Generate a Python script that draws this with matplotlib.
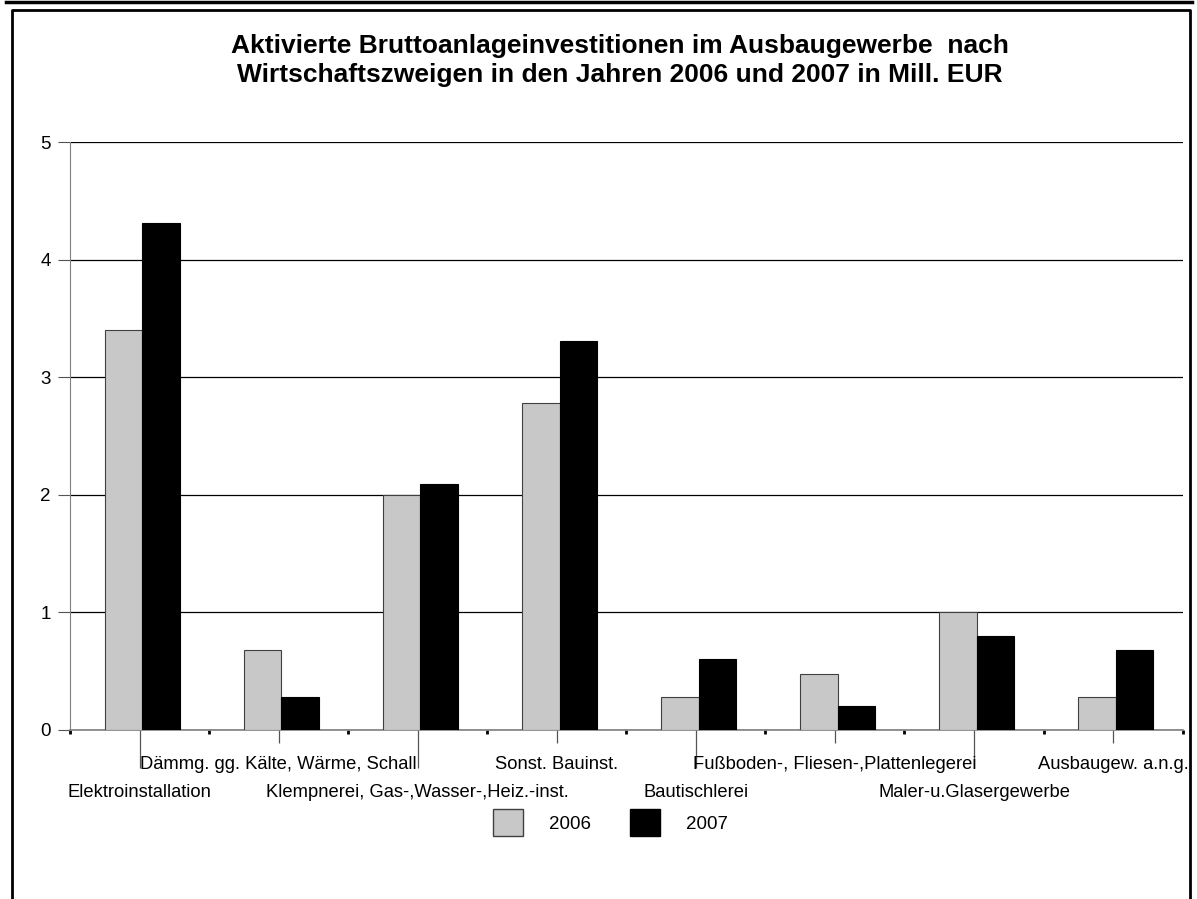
import matplotlib.pyplot as plt
import numpy as np
from matplotlib.lines import Line2D
from matplotlib.patches import Patch

plt.rcParams['font.family'] = ['Liberation Sans', 'DejaVu Sans']

# chart data
categories = [
    "Elektroinstallation",
    "Dämmg. gg. Kälte, Wärme, Schall",
    "Klempnerei, Gas-,Wasser-,Heiz.-inst.",
    "Sonst. Bauinst.",
    "Bautischlerei",
    "Fußboden-, Fliesen-,Plattenlegerei",
    "Maler-u.Glasergewerbe",
    "Ausbaugew. a.n.g.",
]
years = ["2006", "2007"]
values_2006 = [3.4, 0.68, 2.0, 2.78, 0.28, 0.48, 1.0, 0.28]
values_2007 = [4.31, 0.28, 2.09, 3.31, 0.6, 0.2, 0.8, 0.68]
yticks = [0, 1, 2, 3, 4, 5]

title = ("Aktivierte Bruttoanlageinvestitionen im Ausbaugewerbe  nach\n"
         "Wirtschaftszweigen in den Jahren 2006 und 2007 in Mill. EUR")

fig = plt.figure(figsize=(11.97, 8.99), dpi=100)
ax = fig.add_axes([0.0585, 0.188, 0.9295, 0.654])

x = np.arange(len(categories))
w = 0.27
ax.bar(x - w / 2 + 0.02, values_2006, w, color="#c8c8c8", edgecolor="#404040", linewidth=0.8, zorder=3)
ax.bar(x + w / 2 + 0.02, values_2007, w, color="black", edgecolor="black", linewidth=0.8, zorder=3)

ax.set_xlim(-0.5, len(categories) - 0.5)
ax.set_ylim(0, 5)
ax.set_yticks(yticks)
ax.set_yticklabels([str(t) for t in yticks], fontsize=13.5)
ax.yaxis.grid(True, color="black", linewidth=0.9)
ax.set_axisbelow(True)
ax.tick_params(axis="y", length=9, color="#555555", pad=5)

# staggered category labels: odd ones on the first row, even ones on a second row
odd = x[1::2]
even = x[0::2]
ax.set_xticks(odd)
ax.set_xticklabels(categories[1::2], fontsize=13.2)
ax.tick_params(axis="x", which="major", length=9.4, color="#555555", width=0.9, pad=9.5)
ax.set_xticks(np.arange(len(categories) + 1) - 0.5, minor=True)
ax.tick_params(axis="x", which="minor", length=3, width=2, color="black")

sec = ax.secondary_xaxis("bottom")
sec.set_xticks(even)
sec.set_xticklabels(categories[0::2], fontsize=13.2)
sec.tick_params(axis="x", length=27, color="#555555", width=0.9, pad=11.8)
sec.spines["bottom"].set_visible(False)

for s in ["top", "right"]:
    ax.spines[s].set_visible(False)
ax.spines["left"].set_color("#808080")
ax.spines["bottom"].set_color("#808080")
ax.spines["bottom"].set_linewidth(1.2)

fig.text(0.518, 0.933, title, ha="center", va="center", fontsize=19,
         fontweight="bold", linespacing=1.25)

handles = [Patch(facecolor="#c8c8c8", edgecolor="#404040"),
           Patch(facecolor="black", edgecolor="black")]
fig.legend(handles, years, loc="center", bbox_to_anchor=(0.51, 0.085), ncol=2,
           frameon=False, fontsize=13.5, handlelength=1.6, handleheight=1.8,
           columnspacing=2.1, handletextpad=1.4)

# chart frame
fig.add_artist(Line2D([0.01, 0.01, 0.9942, 0.9942], [0, 0.989, 0.989, 0], color="black", lw=2))
fig.add_artist(Line2D([0.005, 0.996], [0.998, 0.998], color="black", lw=2.5))

fig.savefig("out.png", dpi=100)
